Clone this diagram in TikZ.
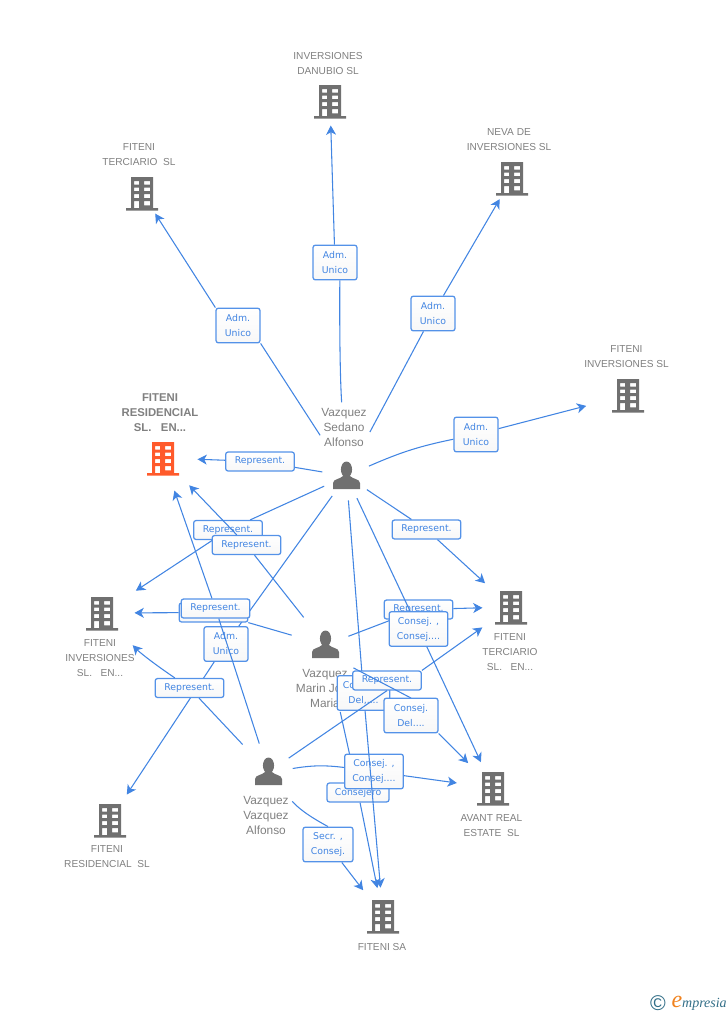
\documentclass[tikz,border=0pt]{standalone}
\usepackage{fontspec}
\setmainfont{Liberation Sans}
\newfontfamily\labfont{DejaVu Sans}
\newfontfamily\logofont{Liberation Serif}
\usetikzlibrary{arrows.meta}

\definecolor{linkblue}{RGB}{66,133,226}
\definecolor{boxblue}{RGB}{84,146,232}
\definecolor{iconshade}{RGB}{112,112,112}
\definecolor{nameshade}{RGB}{128,128,128}
\definecolor{mainorange}{RGB}{255,90,43}
\definecolor{logoteal}{RGB}{50,110,135}
\definecolor{logoorange}{RGB}{240,130,30}

\tikzset{
	every picture/.style={line width=0.75pt},
	link/.style={draw=linkblue, line width=0.8pt},
	arrowlink/.style={link, -{Stealth[length=7pt,width=7.5pt,inset=2pt]}},
	anchorblob/.style={circle, minimum size=36pt, inner sep=0pt},
	compname/.style={text=nameshade, align=center, inner sep=0pt, font=\fontsize{7.6}{11.25}\selectfont},
	persname/.style={text=nameshade, align=center, inner sep=0pt, font=\fontsize{8.9}{11.25}\selectfont},
	mainname/.style={text=nameshade, align=center, inner sep=0pt, font=\bfseries\fontsize{8.5}{11.25}\selectfont},
	labbox/.style={draw=boxblue, line width=0.95pt, rounded corners=1.8pt, top color=white, bottom color=black!3, text=linkblue, align=center, inner sep=0pt, font=\labfont\fontsize{7}{11.25}\selectfont},
	onebox/.style={labbox, minimum width=51.5pt, minimum height=14.2pt},
	twobox/.style={labbox, minimum width=33pt, minimum height=26pt},
	bldg/.pic={
		\fill[pic actions, yscale=-1, even odd rule] (-11,-16) -- (11,-16) -- (11,15) -- (16,15) -- (16,17.5) -- (-16,17.5) -- (-16,15) -- (-11,15) -- cycle
			(-8,-12) rectangle (-3,-8.4) (2,-12) rectangle (8,-8.4)
			(-8,-5.4) rectangle (-3,-1.8) (2,-5.4) rectangle (8,-1.8)
			(-8,1.2) rectangle (-3,5) (2,1.2) rectangle (8,5)
			(-8,8) rectangle (-3,15) (2,8) rectangle (8,12.3);
	},
	person/.pic={
		\fill[iconshade, yscale=-1] (0,-6.5) ellipse (5.6 and 8);
		\fill[iconshade, yscale=-1] (-13.5,13) -- (-13.5,7) .. controls (-13.5,3) and (-6,3) .. (-3.5,0) -- (3.5,0) .. controls (6,3) and (13.5,3) .. (13.5,7) -- (13.5,13) -- cycle;
	}
}

\begin{document}
\begin{tikzpicture}[x=0.75pt,y=0.75pt,yscale=-1,xscale=1]
	\useasboundingbox (0,0) rectangle (728,1015);

	% companies
	\node (danubio) [anchorblob] at (330,101) {};
	\node (terciario) [anchorblob] at (142,193) {};
	\node (neva) [anchorblob] at (512,178) {};
	\node (inversiones) [anchorblob] at (628,395) {};
	\node (residen) [anchorblob] at (163,458) {};
	\node (inven) [anchorblob] at (102,613) {};
	\node (terciaen) [anchorblob] at (511,607) {};
	\node (avant) [anchorblob] at (493,788) {};
	\node (residsl) [anchorblob] at (110,820) {};
	\node (fitenisa) [anchorblob] at (383,916) {};
	\pic [fill=iconshade] at (danubio) {bldg};
	\pic [fill=iconshade] at (terciario) {bldg};
	\pic [fill=iconshade] at (neva) {bldg};
	\pic [fill=iconshade] at (inversiones) {bldg};
	\pic [fill=mainorange] at (residen) {bldg};
	\pic [fill=iconshade] at (inven) {bldg};
	\pic [fill=iconshade] at (terciaen) {bldg};
	\pic [fill=iconshade] at (avant) {bldg};
	\pic [fill=iconshade] at (residsl) {bldg};
	\pic [fill=iconshade] at (fitenisa) {bldg};

	\node (danubiotxt) [compname] at (328,64) {INVERSIONES\\DANUBIO SL};
	\node (terciariotxt) [compname] at (139,155) {FITENI\\TERCIARIO\ \ SL};
	\node (nevatxt) [compname] at (509,140) {NEVA DE\\INVERSIONES SL};
	\node (inversionestxt) [compname] at (626.5,357) {FITENI\\INVERSIONES SL};
	\node (residentxt) [mainname] at (160,412.5) {FITENI\\RESIDENCIAL\\SL.\ \ \ EN...};
	\node (inventxt) [compname] at (100,658.5) {FITENI\\INVERSIONES\\SL.\ \ \ EN...};
	\node (terciaentxt) [compname] at (510,652.5) {FITENI\\TERCIARIO\\SL.\ \ \ EN...};
	\node (avanttxt) [compname] at (491.5,826) {AVANT REAL\\ESTATE\ \ SL};
	\node (residsltxt) [compname] at (107,857) {FITENI\\RESIDENCIAL\ \ SL};
	\node (fitenisatxt) [compname] at (382,946.5) {FITENI SA};

	% people
	\node (sedano) [anchorblob] at (346.5,476) {};
	\node (marin) [anchorblob] at (325.5,645) {};
	\node (vazquez) [anchorblob] at (268.5,772) {};
	\pic at (sedano) {person};
	\pic at (marin) {person};
	\pic at (vazquez) {person};
	\node (sedanotxt) [persname] at (344,427.5) {Vazquez\\Sedano\\Alfonso};
	\node (marintxt) [persname] at (325,688.5) {Vazquez\\Marin Jose\\Maria};
	\node (vazqueztxt) [persname] at (266,815.5) {Vazquez\\Vazquez\\Alfonso};

	% Sedano
	\node (admdanubio) [twobox] at (335,262.5) {Adm.\\Unico};
	\draw [link, shorten <=37pt] (sedano) to[bend right=2] (admdanubio.-75);
	\draw [arrowlink] (admdanubio) -- (danubio);
	\node (admterciario) [twobox] at (238,325.5) {Adm.\\Unico};
	\draw [link, shorten <=18pt] (sedano) -- (admterciario.south east);
	\draw [arrowlink] (admterciario.north west) -- (terciario);
	\node (admneva) [twobox] at (433,313.5) {Adm.\\Unico};
	\draw [link, shorten <=19pt] (sedano) -- (admneva);
	\draw [arrowlink] (admneva) -- (neva);
	\node (adminver) [twobox] at (476,434.5) {Adm.\\Unico};
	\draw [link] (sedano) to[bend right=6] (adminver);
	\draw [arrowlink, shorten >=14pt] (adminver) -- (inversiones);
	\node (repsedres) [onebox] at (260,461.5) {Represent.};
	\draw [link] (sedano) -- (repsedres);
	\draw [arrowlink, shorten >=7.5pt] (repsedres) -- (residen);
	\node (repsedinv) [onebox] at (228,530) {Represent.};
	\draw [link] (sedano) -- (repsedinv);
	\draw [arrowlink, shorten >=12pt] (repsedinv) -- (inven);
	\node (repsedter) [onebox] at (426.5,529.5) {Represent.};
	\draw [link] (sedano) -- (repsedter);
	\draw [arrowlink, shorten >=8pt] (repsedter) -- (terciaen);
	\node (admressl) [twobox] at (226,644) {Adm.\\Unico};
	\draw [link] (sedano) -- (admressl);
	\draw [arrowlink, shorten >=4.5pt] (admressl) -- (residsl);

	% Marin
	\node (repmarres) [onebox] at (246.5,545) {Represent.};
	\draw [link, shorten <=8pt] (marin) -- (repmarres);
	\draw [arrowlink, shorten >=10pt] (repmarres) -- (residen);
	\node (repmarinv) [onebox] at (213.5,612.5) {Represent.};
	\draw [link, shorten <=8pt] (marin) -- (repmarinv);
	\draw [arrowlink, shorten >=6pt] (repmarinv) -- (inven);

	% Vazquez
	\node (repvazres) [onebox] at (215.5,608.5) {Represent.};
	\draw [link, shorten <=4pt] (vazquez) -- (repvazres);
	\draw [arrowlink, shorten >=7.5pt] (repvazres) -- (residen);
	\node (repvazinv) [onebox] at (189.5,688) {Represent.};
	\draw [link, shorten <=10pt] (vazquez) -- (repvazinv);
	\draw [arrowlink, shorten >=15pt] (repvazinv) to[bend right=6] (inven);

	% lines into FITENI SA and AVANT
	\node (consmarsa) [onebox, minimum width=46.5pt] at (358,792.5) {Consejero};
	\draw [link, shorten <=33pt] (marin) -- (consmarsa);
	\draw [arrowlink, shorten >=3pt] (consmarsa) -- (fitenisa);
	\node (consvazav) [twobox, minimum width=44pt] at (374,771.5) {Consej. ,\\Consej....};
	\draw [link] (vazquez) to[bend right=8] (consvazav);
	\draw [arrowlink, shorten >=9pt] (consvazav) -- (avant);
	\node (secrvazsa) [twobox, minimum width=37.5pt] at (328,844.5) {Secr. ,\\Consej.};
	\draw [link, shorten <=10pt] (vazquez) to[bend left=10] (secrvazsa.north);
	\draw [arrowlink, shorten >=6pt] (secrvazsa) -- (fitenisa);
	\node (conssedsa) [twobox, minimum width=39.5pt] at (363.5,693) {Consej. ,\\Del,....};
	\draw [link] (sedano) -- (conssedsa);
	\draw [arrowlink, shorten >=3pt] (conssedsa) -- (fitenisa);
	\node (repvazter) [onebox] at (387,680.5) {Represent.};
	\draw [link] (vazquez) -- (repvazter.south);
	\draw [arrowlink, shorten >=8pt] (repvazter.north east) -- (terciaen);
	\coordinate (consdeltop) at (411,698);
	\draw [link, shorten <=9pt] (marin.south east) -- (consdeltop);
	\node (consmarav) [twobox, minimum width=40.5pt] at (411,715.5) {Consej.\\Del....};
	\draw [arrowlink, shorten >=8pt] (consmarav.south east) -- (avant);
	\node (repmarter) [onebox] at (418.5,609.5) {Represent.};
	\draw [link] (marin) -- (repmarter);
	\draw [arrowlink, shorten >=3pt] (repmarter) -- (terciaen);
	\node (conssedav) [twobox, minimum width=44pt] at (418.5,629) {Consej. ,\\Consej....};
	\draw [link] (sedano) -- (conssedav);
	\draw [arrowlink, shorten >=3pt] (conssedav) -- (avant);

	% logo
	\node (logocopy) [inner sep=0pt, text=logoteal, font=\fontsize{16}{16}\selectfont] at (658,1003) {©};
	\node (logoword) [inner sep=0pt, anchor=base west, font=\logofont\itshape\fontsize{10.5}{10}\selectfont, text=logoteal] at (671,1007.5) {\textcolor{logoorange}{\fontsize{18}{18}\selectfont e}mpresia};
\end{tikzpicture}
\end{document}
